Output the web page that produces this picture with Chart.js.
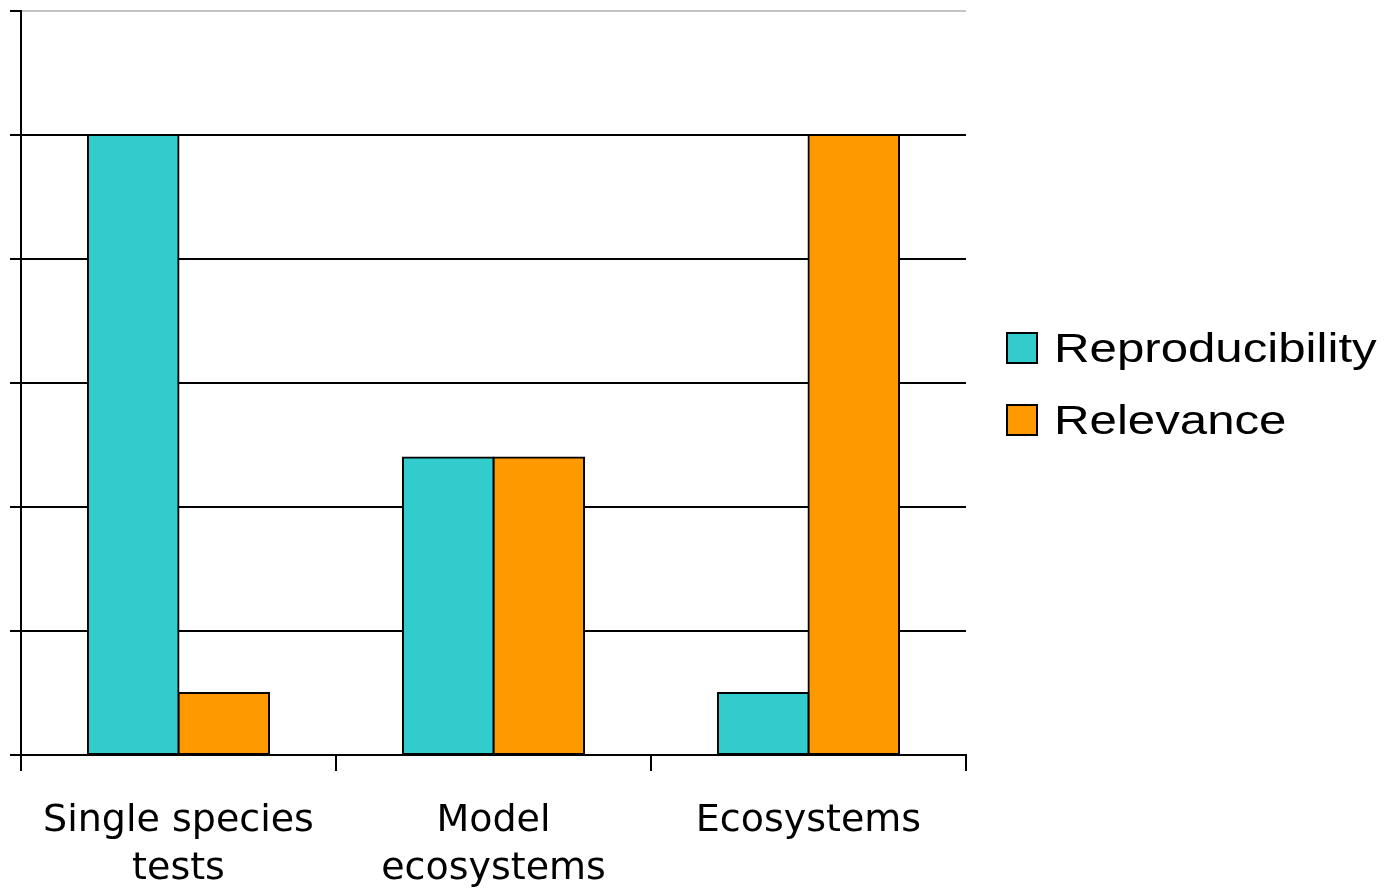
<!DOCTYPE html>
<html>
<head>
<meta charset="utf-8">
<script src="https://cdn.jsdelivr.net/npm/chart.js@4/dist/chart.umd.min.js"></script>
<style>
  html, body { margin: 0; padding: 0; background: #fff; }
  #wrap { width: 1389px; height: 896px; position: relative; }
</style>
</head>
<body>
<div id="wrap"><canvas id="c" width="1389" height="896"></canvas></div>
<script>
const categories = [["Single species", "tests"], ["Model", "ecosystems"], "Ecosystems"];
const reproducibility = [5, 2.4, 0.5];
const relevance = [0.5, 2.4, 5];
const seriesNames = ["Reproducibility", "Relevance"];
const seriesColors = ["#33CCCC", "#FF9900"];

// Legend drawn to the right of the plot, with slightly widened Arial-style text
const sideLegend = {
  id: 'sideLegend',
  afterDraw(chart) {
    const ctx = chart.ctx;
    const x0 = 1007, y0 = 333, step = 72, box = 30;
    ctx.save();
    chart.data.datasets.forEach((ds, i) => {
      const y = y0 + i * step;
      ctx.fillStyle = ds.backgroundColor;
      ctx.fillRect(x0, y, box, box);
      ctx.lineWidth = 2;
      ctx.strokeStyle = '#000';
      ctx.strokeRect(x0, y, box, box);
      ctx.save();
      ctx.translate(x0 + 47, y + box - 1);
      ctx.scale(1.2, 1);
      ctx.font = '41px "Liberation Sans", Arial, sans-serif';
      ctx.fillStyle = '#000';
      ctx.textBaseline = 'alphabetic';
      ctx.fillText(ds.label, 0, 0);
      ctx.restore();
    });
    ctx.restore();
  }
};

new Chart(document.getElementById('c'), {
  type: 'bar',
  data: {
    labels: categories,
    datasets: [
      { label: seriesNames[0], data: reproducibility, backgroundColor: seriesColors[0] },
      { label: seriesNames[1], data: relevance, backgroundColor: seriesColors[1] }
    ]
  },
  options: {
    responsive: false,
    animation: false,
    devicePixelRatio: 1,
    layout: { padding: { left: 0, right: 423, top: 11, bottom: 0 } },
    datasets: {
      bar: {
        categoryPercentage: 0.575,
        barPercentage: 1,
        borderColor: '#000',
        borderWidth: 2,
        borderSkipped: false,
        inflateAmount: 1
      }
    },
    plugins: {
      legend: { display: false },
      tooltip: { enabled: false }
    },
    scales: {
      x: {
        afterFit(scale) { scale.height = 141; },
        border: { display: true, color: '#000', width: 2 },
        grid: {
          offset: true,
          drawOnChartArea: false,
          drawTicks: true,
          tickLength: 16,
          color: '#000',
          lineWidth: 2
        },
        ticks: {
          color: '#000',
          padding: 26,
          maxRotation: 0,
          autoSkip: false,
          font: { family: '"DejaVu Sans", sans-serif', size: 38, lineHeight: 1.27 }
        }
      },
      y: {
        min: 0,
        max: 6,
        afterFit(scale) { scale.width = 21; },
        border: { display: true, color: '#000', width: 2 },
        grid: {
          drawTicks: true,
          tickLength: 11,
          color: (c) => (c.tick && c.tick.value === 6 ? '#c4c4c4' : '#000'),
          tickColor: '#000',
          lineWidth: 2
        },
        ticks: { display: false, stepSize: 1 }
      }
    }
  },
  plugins: [sideLegend]
});
</script>
</body>
</html>
